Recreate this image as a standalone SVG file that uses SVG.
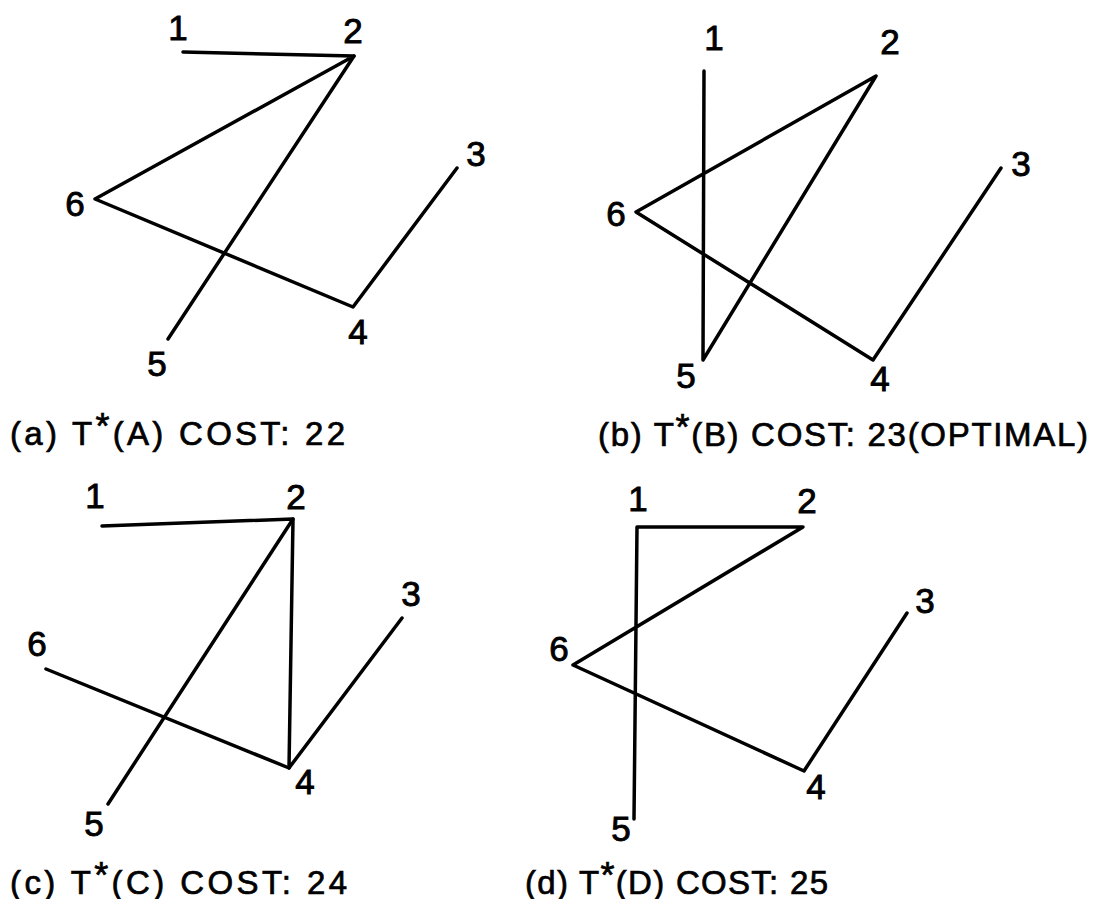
<svg xmlns="http://www.w3.org/2000/svg" width="1095" height="899" viewBox="0 0 1095 899">
<style>
.e{stroke:#000;stroke-width:3.5;fill:none;stroke-linecap:round;stroke-linejoin:round}
.n{font-family:"Liberation Sans",Arial,sans-serif;font-size:35px;fill:#000;stroke:#000;stroke-width:0.9;text-anchor:middle}
.c{font-family:"Liberation Sans",Arial,sans-serif;font-size:33px;fill:#000;stroke:#000;stroke-width:0.7}
.s{font-size:36px}
</style>
<rect width="1095" height="899" fill="#fff"/>
<g id="connectors">
<g id="edges-a">
<polyline class="e" points="183,52 354,56 95,199 353,307 457,168"/>
<line class="e" x1="354" y1="56" x2="168" y2="339"/>
</g>
<g id="edges-b">
<polyline class="e" points="704,71 703,360 876,76 636,212 873,360 1001,168"/>
</g>
<g id="edges-c">
<polyline class="e" points="102,526 293,519 108,804"/>
<polyline class="e" points="293,519 289,768 402,618"/>
<line class="e" x1="46" y1="669" x2="289" y2="768"/>
</g>
<g id="edges-d">
<polyline class="e" points="634,819 637,527 803,527 573,665 804,771 907,613"/>
</g>
</g>
<g id="panel-a">
<text id="a1" class="n" x="178" y="40">1</text>
<text id="a2" class="n" x="353" y="43">2</text>
<text id="a3" class="n" x="476" y="166">3</text>
<text id="a6" class="n" x="75" y="216">6</text>
<text id="a4" class="n" x="358" y="344">4</text>
<text id="a5" class="n" x="157" y="376">5</text>
<text id="cap-a" class="c" x="10" y="445" textLength="335" lengthAdjust="spacing">(a) T<tspan class="s" dy="-6">*</tspan><tspan dy="6">(A)  COST: 22</tspan></text>
</g>
<g id="panel-b">
<text id="b1" class="n" x="714" y="50">1</text>
<text id="b2" class="n" x="890" y="54">2</text>
<text id="b3" class="n" x="1021" y="176">3</text>
<text id="b6" class="n" x="616" y="226">6</text>
<text id="b5" class="n" x="686" y="388">5</text>
<text id="b4" class="n" x="880" y="391">4</text>
<text id="cap-b" class="c" x="598" y="446" textLength="490" lengthAdjust="spacing">(b) T<tspan class="s" dy="-6">*</tspan><tspan dy="6">(B) COST: 23(OPTIMAL)</tspan></text>
</g>
<g id="panel-c">
<text id="c1" class="n" x="95" y="508">1</text>
<text id="c2" class="n" x="296" y="509">2</text>
<text id="c3" class="n" x="411" y="606">3</text>
<text id="c6" class="n" x="37" y="656">6</text>
<text id="c4" class="n" x="305" y="794">4</text>
<text id="c5" class="n" x="94" y="836">5</text>
<text id="cap-c" class="c" x="10" y="894" textLength="337" lengthAdjust="spacing">(c) T<tspan class="s" dy="-6">*</tspan><tspan dy="6">(C) COST: 24</tspan></text>
</g>
<g id="panel-d">
<text id="d1" class="n" x="638" y="511">1</text>
<text id="d2" class="n" x="807" y="513">2</text>
<text id="d3" class="n" x="925" y="613">3</text>
<text id="d6" class="n" x="559" y="661">6</text>
<text id="d4" class="n" x="816" y="799">4</text>
<text id="d5" class="n" x="621" y="841">5</text>
<text id="cap-d" class="c" x="525" y="894" textLength="303" lengthAdjust="spacing">(d) T<tspan class="s" dy="-6">*</tspan><tspan dy="6">(D) COST: 25</tspan></text>
</g>
</svg>
